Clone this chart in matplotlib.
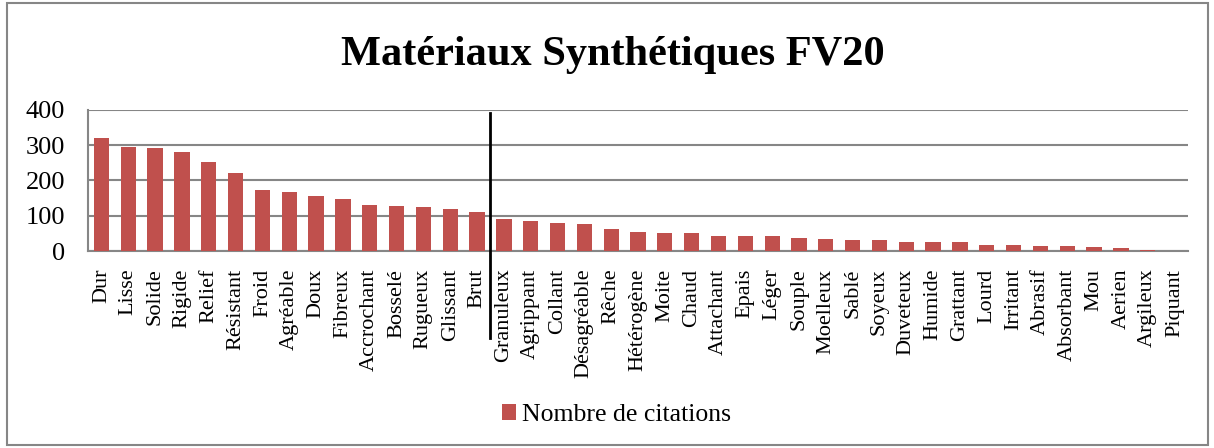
import matplotlib
matplotlib.use("Agg")
import matplotlib.pyplot as plt
from matplotlib.patches import Rectangle
from matplotlib.lines import Line2D

categories = ["Dur", "Lisse", "Solide", "Rigide", "Relief", "Résistant", "Froid", "Agréable",
              "Doux", "Fibreux", "Accrochant", "Bosselé", "Rugueux", "Glissant", "Brut",
              "Granuleux", "Agrippant", "Collant", "Désagréable", "Rêche", "Hétérogène", "Moite",
              "Chaud", "Attachant", "Epais", "Léger", "Souple", "Moelleux", "Sablé", "Soyeux",
              "Duveteux", "Humide", "Grattant", "Lourd", "Irritant", "Abrasif", "Absorbant",
              "Mou", "Aerien", "Argileux", "Piquant"]
citations = [319, 295, 291, 281, 252, 220, 173, 168, 156, 149, 131, 128, 124, 120, 111,
             90, 85, 80, 76, 63, 55, 53, 51, 43, 42, 42, 37, 34, 31, 31,
             26, 26, 25, 18, 17, 15, 15, 12, 8, 4, 0]
yticks = [0, 100, 200, 300, 400]
series_name = "Nombre de citations"
title = "Matériaux Synthétiques FV20"

plt.rcParams['font.family'] = ['Liberation Serif', 'DejaVu Serif']

fig = plt.figure(figsize=(12.14, 4.48), dpi=100)
ax = fig.add_axes([88/1214, 1-251.3/448, (1188-88)/1214, (251.3-109.7)/448])

x = list(range(len(categories)))
ax.bar(x, citations, width=0.57, color="#C0504D", label=series_name, zorder=3)
ax.set_xlim(-0.5, len(categories) - 0.5)
ax.set_ylim(0, 400)
ax.set_yticks(yticks)
ax.set_yticklabels([str(v) for v in yticks], fontsize=19)
ax.set_xticks(x)
ax.set_xticklabels(categories, rotation=90, fontsize=16)
ax.tick_params(axis='x', length=0, pad=12.5)
ax.tick_params(axis='y', length=0, pad=16.5)
ax.yaxis.grid(True, color="#868686", linewidth=1.5, zorder=0)
for s in ["top", "right"]:
    ax.spines[s].set_visible(False)
for s in ["left", "bottom"]:
    ax.spines[s].set_color("#868686")
    ax.spines[s].set_linewidth(1.5)

# separator line between Brut and Granuleux
ax.add_line(Line2D([14.5, 14.5], [0.98, -0.61], transform=ax.get_xaxis_transform(),
                   color="black", linewidth=2, clip_on=False, zorder=5))

fig.text(0.505, 1-55/448, title, ha="center", va="center", fontsize=30.5, fontweight="bold")

fig.legend(loc="center", bbox_to_anchor=(0.508, 1-415/448), frameon=False, fontsize=18.5,
           handlelength=0.55, handleheight=0.55, handletextpad=0.23)

fig.add_artist(Rectangle((7/1214, 3/448), 1201/1214, 442/448, transform=fig.transFigure,
                         fill=False, edgecolor="#868686", linewidth=1.5))

fig.savefig("out.png", dpi=100)
